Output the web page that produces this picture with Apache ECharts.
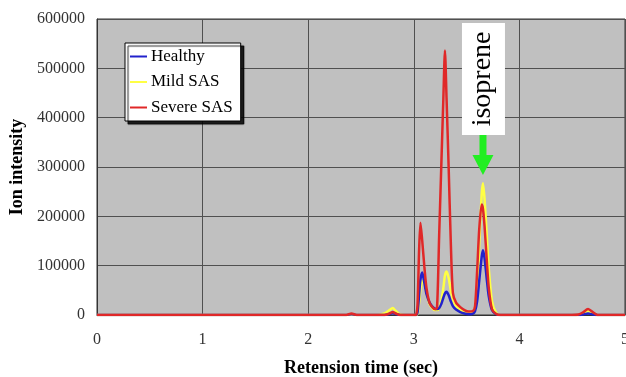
<!DOCTYPE html>
<html>
<head>
<meta charset="utf-8">
<script src="https://cdn.jsdelivr.net/npm/echarts@6/dist/echarts.min.js"></script>
<style>
html,body{margin:0;padding:0;background:#fff;overflow:hidden;}
#chart{width:626px;height:377px;}
</style>
</head>
<body>
<div id="chart"></div>
<script>
// Retention time (sec)
var times = [0, 2.30, 2.36, 2.41, 2.46, 2.60, 2.66, 2.72, 2.77, 2.80, 2.83, 2.87, 2.92, 3.00, 3.02, 3.035, 3.05, 3.063, 3.08, 3.10, 3.12, 3.15, 3.18, 3.20, 3.22, 3.24, 3.26, 3.28, 3.295, 3.31, 3.33, 3.35, 3.37, 3.40, 3.44, 3.48, 3.52, 3.56, 3.58, 3.60, 3.62, 3.643, 3.655, 3.67, 3.69, 3.71, 3.74, 3.78, 3.82, 4.50, 4.56, 4.60, 4.65, 4.70, 4.74, 5.00];

var healthy = [0, 0, 0, 1500, 0, 0, 0, 0, 2000, 4000, 2000, 0, 0, 0, 0, 5000, 40000, 72000, 86000, 65000, 42000, 25000, 16000, 13000, 12000, 14000, 22000, 35000, 44000, 47000, 40000, 28000, 18000, 11000, 6000, 3000, 1500, 3000, 8000, 28000, 70000, 118000, 131000, 115000, 75000, 38000, 10000, 1500, 0, 0, 0, 1000, 3000, 1000, 0, 0];

var mild = [0, 0, 0, 0, 0, 0, 0, 3000, 10000, 14000, 8000, 1000, 0, 0, 0, 2000, 25000, 52000, 69000, 62000, 42000, 22000, 13000, 10000, 10000, 14000, 28000, 55000, 80000, 88000, 75000, 50000, 32000, 18000, 10000, 5000, 3000, 4000, 14000, 55000, 145000, 245000, 267000, 235000, 165000, 95000, 28000, 4000, 0, 0, 0, 3000, 8000, 3000, 0, 0];

var severe = [0, 0, 0, 3000, 0, 0, 0, 0, 3000, 6000, 3000, 0, 0, 0, 0, 20000, 130000, 187000, 150000, 98000, 55000, 24000, 15000, 12000, 15000, 160000, 300000, 440000, 536000, 440000, 300000, 150000, 45000, 25000, 16000, 10000, 7000, 8000, 18000, 90000, 175000, 224000, 215000, 180000, 115000, 55000, 12000, 2000, 0, 0, 1000, 5000, 12000, 5000, 0, 0];

var seriesNames = ['Healthy', 'Mild SAS', 'Severe SAS'];
var xTicks = [0, 1, 2, 3, 4, 5];
var yTicks = [0, 100000, 200000, 300000, 400000, 500000, 600000];
var annotationLabel = 'isoprene';
var annotationTime = 3.655;
var annotationTipValue = 284000;

function pairs(ys) {
  return times.map(function (t, i) { return [t, ys[i]]; });
}

var serif = '"Liberation Serif", "Times New Roman", serif';
var chart = echarts.init(document.getElementById('chart'), null, {renderer: 'canvas'});

var option = {
  animation: false,
  backgroundColor: '#ffffff',
  grid: {
    left: 97, right: 1, top: 19, bottom: 62,
    containLabel: false, outerBoundsMode: 'none',
    show: true, backgroundColor: '#c0c0c0', borderColor: '#333', borderWidth: 1
  },
  legend: {
    data: seriesNames,
    orient: 'vertical',
    left: 125, top: 43,
    padding: [5, 8, 5, 5],
    itemGap: 8.5,
    itemWidth: 17, itemHeight: 2,
    icon: 'rect',
    backgroundColor: '#ffffff',
    borderColor: '#000', borderWidth: 1,
    shadowColor: 'rgba(0,0,0,0.85)', shadowBlur: 1, shadowOffsetX: 3, shadowOffsetY: 3,
    textStyle: {fontFamily: serif, fontSize: 17, color: '#000', padding: [0, 0, 0, -1]}
  },
  xAxis: {
    type: 'value', min: xTicks[0], max: xTicks[xTicks.length - 1], interval: 1,
    name: 'Retension time (sec)', nameLocation: 'middle', nameGap: 44,
    nameTextStyle: {fontFamily: serif, fontSize: 18, fontWeight: 'bold', color: '#000'},
    axisLine: {show: true, lineStyle: {color: '#333', width: 1}},
    axisTick: {show: false},
    axisLabel: {fontFamily: serif, fontSize: 16, color: '#333', margin: 17,
      formatter: function (v) { return String(v); }},
    splitLine: {show: true, lineStyle: {color: '#505050', width: 1}}
  },
  yAxis: {
    type: 'value', min: yTicks[0], max: yTicks[yTicks.length - 1], interval: 100000,
    name: 'Ion intensity', nameLocation: 'middle', nameGap: 69,
    nameTextStyle: {fontFamily: serif, fontSize: 18, fontWeight: 'bold', color: '#000'},
    axisLine: {show: true, lineStyle: {color: '#333', width: 1}},
    axisTick: {show: false},
    axisLabel: {fontFamily: serif, fontSize: 16, color: '#333', margin: 12,
      formatter: function (v) { return String(v); }},
    splitLine: {show: true, lineStyle: {color: '#505050', width: 1}}
  },
  series: [
    {name: seriesNames[0], type: 'line', data: pairs(healthy), showSymbol: false, smooth: 0.25, z: 3,
      color: '#2222cc', lineStyle: {width: 2.5, color: '#2222cc'}},
    {name: seriesNames[1], type: 'line', data: pairs(mild), showSymbol: false, smooth: 0.25, z: 2,
      color: '#ffff44', lineStyle: {width: 2.5, color: '#ffff44'}},
    {name: seriesNames[2], type: 'line', data: pairs(severe), showSymbol: false, smooth: 0.25, z: 4,
      color: '#e02828', lineStyle: {width: 2.5, color: '#e02828'}}
  ]
};
chart.setOption(option);

// isoprene annotation anchored to the data coordinates
var tip = chart.convertToPixel({gridIndex: 0}, [annotationTime, annotationTipValue]);
var cx = tip[0], ty = tip[1];
chart.setOption({
  graphic: [
    {type: 'rect', shape: {x: cx - 21, y: ty - 152, width: 43, height: 112}, style: {fill: '#ffffff'}, z: 100},
    {type: 'text', x: cx, y: ty - 96, rotation: Math.PI / 2,
      style: {text: annotationLabel, font: '28px ' + serif, fill: '#000', align: 'center', verticalAlign: 'middle'}, z: 101},
    {type: 'polygon', shape: {points: [
      [cx - 3.5, ty - 40], [cx + 3.5, ty - 40], [cx + 3.5, ty - 20], [cx + 10.5, ty - 20],
      [cx, ty], [cx - 10.5, ty - 20], [cx - 3.5, ty - 20]
    ]}, style: {fill: '#22ee22'}, z: 101}
  ]
});
</script>
</body>
</html>
